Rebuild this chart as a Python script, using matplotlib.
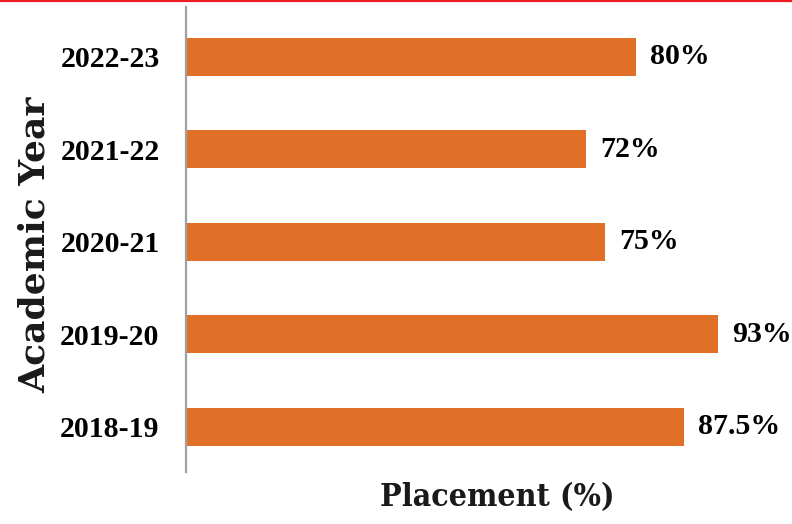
import matplotlib
matplotlib.use("Agg")
import matplotlib.pyplot as plt
from matplotlib.lines import Line2D

years = ["2018-19", "2019-20", "2020-21", "2021-22", "2022-23"]
placement = [87.5, 93, 75, 72, 80]
labels = ["87.5%", "93%", "75%", "72%", "80%"]

fig = plt.figure(figsize=(7.92, 5.24), dpi=100)
ax = fig.add_axes([186/792, 52/524, 1 - 186/792, 465/524])

ypos = list(range(len(years)))
xmin = 8.5
ax.barh(ypos, [v - xmin for v in placement], left=xmin, height=0.41, color="#E07028")
ax.set_xlim(xmin, xmin + (792 - 186) / 6.3)
ax.set_ylim(-0.49, 4.54)

ax.set_yticks(ypos)
ax.set_yticklabels(years, fontfamily="Liberation Serif", fontweight="bold", fontsize=21.5)
ax.tick_params(axis="y", length=0, pad=19)
ax.set_xticks([])

for s in ["top", "right", "bottom"]:
    ax.spines[s].set_visible(False)
ax.spines["left"].set_color("#A0A0A0")
ax.spines["left"].set_linewidth(1.6)

for y, v, lab in zip(ypos, placement, labels):
    ax.text(v + 2.2, y, lab, va="center", ha="left",
            fontfamily="Liberation Serif", fontweight="bold", fontsize=21.5)

fig.text(35/792, 1 - 245/524, "Academic Year", rotation=90, va="center", ha="center",
         fontfamily="DejaVu Serif", fontweight="bold", fontsize=26, color="#1a1a1a")
fig.text(497/792, 1 - 498/524, "Placement (%)", va="center", ha="center",
         fontfamily="DejaVu Serif", fontstretch="condensed", fontweight="bold",
         fontsize=23, color="#1a1a1a")

fig.add_artist(Line2D([0, 1], [1 - 0.8/524, 1 - 0.8/524], transform=fig.transFigure,
                      color="#ED1C24", linewidth=1.6))

fig.savefig("out.png", dpi=100)
